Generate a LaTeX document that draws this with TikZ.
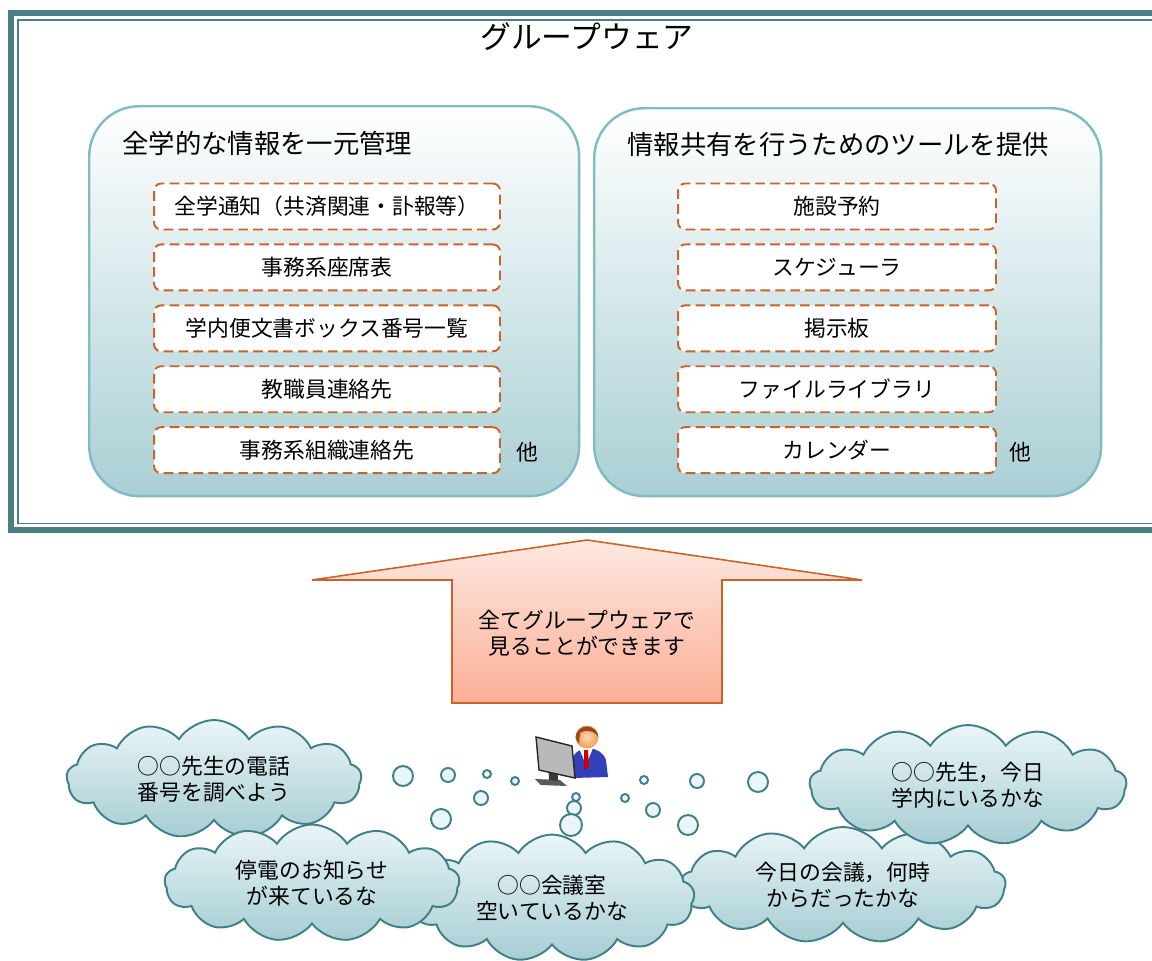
\documentclass[tikz,border=0pt]{standalone}
\usepackage{fontspec}
\setmainfont{Noto Sans CJK JP}
\usetikzlibrary{shapes.symbols,positioning}

\definecolor{frameteal}{HTML}{4A8084}
\definecolor{panelline}{HTML}{80BCC4}
\definecolor{panelbot}{HTML}{A9CFD4}
\definecolor{dashorange}{HTML}{C8642A}
\definecolor{arrowtop}{HTML}{FDE8E0}
\definecolor{arrowbot}{HTML}{FBAE96}
\definecolor{cloudline}{HTML}{3F7F87}
\definecolor{cloudtop}{HTML}{EAF5F7}
\definecolor{cloudbot}{HTML}{A6CDD3}
\definecolor{suitblue}{HTML}{3340B8}
\definecolor{skin}{HTML}{F0A050}
\definecolor{hair}{HTML}{9A4A1E}

\tikzset{
  panel/.style={draw=panelline, line width=1.4pt, rounded corners=1cm,
    top color=white, bottom color=panelbot, anchor=north west},
  head/.style={anchor=west, inner sep=0pt, font=\fontsize{15}{18}\selectfont},
  item/.style={draw=dashorange, dash pattern=on 5.5pt off 3pt, line width=1.1pt,
    rounded corners=4pt, fill=white, minimum height=0.92cm,
    font=\fontsize{12.4}{15}\selectfont},
  bubble/.style={cloud, cloud puffs=13, cloud puff arc=115, cloud ignores aspect,
    draw=cloudline, line width=1.1pt, top color=cloudtop, bottom color=cloudbot,
    align=center, font=\fontsize{12.4}{14.8}\selectfont},
  dot/.style={circle, draw=cloudline, line width=1.1pt, fill=cloudtop, inner sep=0pt},
}

\begin{document}
\begin{tikzpicture}[x=0.02cm, y=-0.02cm]
\useasboundingbox (0,0) rectangle (1152,960);

% double frame round the groupware area
\draw[frameteal, line width=3.4pt] (11,13) rectangle (1175,530);
\draw[frameteal, line width=1.1pt] (18,20) rectangle (1175,523.5);
\node[font=\fontsize{17.5}{20}\selectfont] (title) at (587,37) {グループウェア};

% left panel
\node[panel, minimum width=9.8cm, minimum height=7.8cm] (mgmt) at (88,105) {};
\node[head] (mgmthead) at (122,143) {全学的な情報を一元管理};
\node[item, minimum width=6.92cm] (m1) at (327,206.5) {全学通知（共済関連・訃報等）};
\node[item, minimum width=6.92cm, below=0.26cm of m1] (m2) {事務系座席表};
\node[item, minimum width=6.92cm, below=0.26cm of m2] (m3) {学内便文書ボックス番号一覧};
\node[item, minimum width=6.92cm, below=0.26cm of m3] (m4) {教職員連絡先};
\node[item, minimum width=6.92cm, below=0.26cm of m4] (m5) {事務系組織連絡先};
\node[font=\fontsize{12.4}{15}\selectfont] (mgmtetc) at (527,452) {他};

% right panel
\node[panel, minimum width=10.14cm, minimum height=7.76cm] (tools) at (593,107) {};
\node[head] (toolshead) at (627,145) {情報共有を行うためのツールを提供};
\node[item, minimum width=6.36cm] (t1) at (837,206.5) {施設予約};
\node[item, minimum width=6.36cm, below=0.26cm of t1] (t2) {スケジューラ};
\node[item, minimum width=6.36cm, below=0.26cm of t2] (t3) {掲示板};
\node[item, minimum width=6.36cm, below=0.26cm of t3] (t4) {ファイルライブラリ};
\node[item, minimum width=6.36cm, below=0.26cm of t4] (t5) {カレンダー};
\node[font=\fontsize{12.4}{15}\selectfont] (toolsetc) at (1020,452) {他};

% big up arrow
\draw[dashorange, line width=0.9pt, top color=arrowtop, bottom color=arrowbot]
  (587,540) -- (862,580) -- (722,580) -- (722,703) -- (452,703) -- (452,580) -- (312,580) -- cycle;
\node[align=center, font=\fontsize{12.4}{14.8}\selectfont] (seeall) at (587,633)
  {全てグループウェアで\\見ることができます};

% user at the monitor
\fill[suitblue] (573,778) -- (573,757) .. controls (578,745) and (601,745) .. (606,760) -- (608,777) -- cycle;
\fill[white] (579,748) -- (593,748) -- (586,765) -- cycle;
\fill[red!80!black] (584,750) -- (588,750) -- (589,767) -- (584,770) -- cycle;
\shade[inner color=skin!40!white, outer color=skin] (587,737) circle (11.5);
\fill[hair] (575.5,738) arc (180:360:11.5)
  .. controls (596,731) and (586,729) .. (580,733) -- (579,744) -- cycle;
\fill[gray!70!black] (535,779) -- (560,780) -- (567,786) -- (541,785) -- cycle;
\fill[gray!45!black] (548,758) -- (557,760) -- (558,781) -- (549,780) -- cycle;
\draw[gray!30!black, line width=0.8pt, fill=gray!55] (536,737) -- (572,746) -- (575,778) -- (539,770) -- cycle;

% thought clouds
\node[bubble, minimum width=6.5cm, minimum height=2.32cm] (meeting) at (843,885)
  {今日の会議，何時\\からだったかな};
\node[bubble, minimum width=6.34cm, minimum height=2.4cm] (present) at (968,785)
  {○○先生，今日\\学内にいるかな};
\node[bubble, minimum width=5.7cm, minimum height=2.54cm] (room) at (552,898)
  {○○会議室\\空いているかな};
\node[bubble, minimum width=5.9cm, minimum height=2.36cm] (phone) at (214,779)
  {○○先生の電話\\番号を調べよう};
\node[bubble, minimum width=5.9cm, minimum height=2.34cm] (outage) at (312,883)
  {停電のお知らせ\\が来ているな};

% thought bubbles rising to the user
\node[dot, minimum size=0.4cm] (b1) at (403,776) {};
\node[dot, minimum size=0.28cm] (b2) at (448,775) {};
\node[dot, minimum size=0.16cm] (b3) at (487,774) {};
\node[dot, minimum size=0.16cm] (b4) at (515,781) {};
\node[dot, minimum size=0.28cm] (b5) at (481,798) {};
\node[dot, minimum size=0.4cm] (b6) at (441,819) {};
\node[dot, minimum size=0.16cm] (b7) at (576,797) {};
\node[dot, minimum size=0.28cm] (b8) at (574,808) {};
\node[dot, minimum size=0.44cm] (b9) at (571,825) {};
\node[dot, minimum size=0.16cm] (b10) at (644,780) {};
\node[dot, minimum size=0.28cm] (b11) at (697,781) {};
\node[dot, minimum size=0.4cm] (b12) at (758,782) {};
\node[dot, minimum size=0.16cm] (b13) at (625,798) {};
\node[dot, minimum size=0.28cm] (b14) at (653,810) {};
\node[dot, minimum size=0.4cm] (b15) at (688,825) {};
\end{tikzpicture}
\end{document}
